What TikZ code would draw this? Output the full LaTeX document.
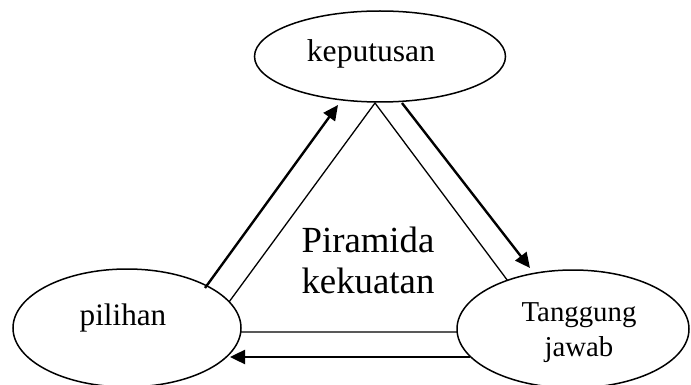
\documentclass[tikz,border=0pt]{standalone}
\usepackage{fontspec}
\setmainfont{Liberation Serif}
\usetikzlibrary{shapes.geometric,arrows.meta}

\begin{document}
\begin{tikzpicture}[x=0.5pt,y=-0.5pt]
\tikzset{oval/.style={draw=black,line width=0.75pt,fill=white,ellipse,inner sep=0pt},
  sisi/.style={draw=black,line width=0.65pt},
  panah/.style={draw=black,line width=1.2pt,-{Triangle[length=7.5pt,width=7pt]}}}
\useasboundingbox (0,0) rectangle (691,385);
% segitiga
\draw [sisi] (375,103) -- (207,332) -- (546,332) -- cycle;
% elips
\node [oval,minimum width=125.5pt,minimum height=45.5pt] (kep) at (380,56.5) {};
\node [oval,minimum width=114pt,minimum height=59pt] (pil) at (127,328) {};
\node [oval,minimum width=116pt,minimum height=59pt] (tgj) at (573,329) {};
\node [font=\fontsize{15.8pt}{19pt}\selectfont,anchor=base] (kepteks) at (371,62) {keputusan};
\node [font=\fontsize{15.6pt}{19pt}\selectfont,anchor=base] (pilteks) at (123,325) {pilihan};
\node [font=\fontsize{14.4pt}{17.5pt}\selectfont,align=center] (tgjteks) at (579,333) {Tanggung\\jawab};
\node [font=\fontsize{18.4pt}{20.5pt}\selectfont,align=center] (pusat) at (368,260) {Piramida\\kekuatan};
% panah
\coordinate (a1) at (205,288);
\coordinate (a2) at (338,105);
\coordinate (b1) at (402,103);
\coordinate (b2) at (530,268);
\coordinate (c1) at (470,357);
\coordinate (c2) at (230,357);
\draw [panah] (a1) -- (a2);
\draw [panah] (b1) -- (b2);
\draw [panah] (c1) -- (c2);
\end{tikzpicture}
\end{document}
